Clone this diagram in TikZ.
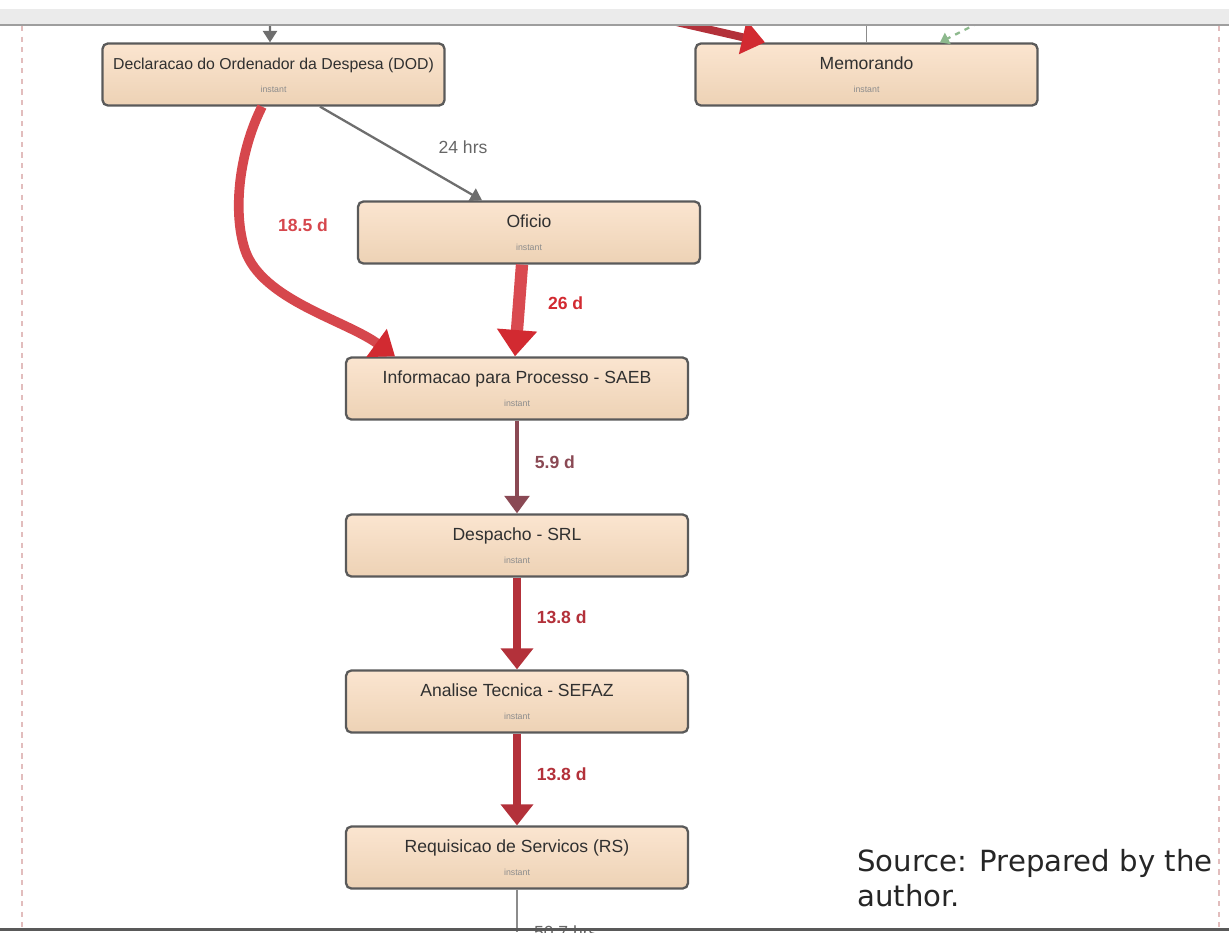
\documentclass[tikz,border=0pt]{standalone}
\usepackage{fontspec}
\setmainfont{Liberation Sans}
\newfontfamily\srcfont{DejaVu Sans}
\usetikzlibrary{arrows.meta,positioning}
\definecolor{boxtop}{HTML}{FBE5D0}
\definecolor{boxbot}{HTML}{EDD2B5}
\definecolor{boxline}{HTML}{5A5A5A}
\definecolor{titlegray}{HTML}{303030}
\definecolor{edgegray}{HTML}{6E6E6E}
\definecolor{lightred}{HTML}{D6474D}
\definecolor{brightred}{HTML}{D22A31}
\definecolor{darkred}{HTML}{B3313A}
\definecolor{maroon}{HTML}{8A4954}
\definecolor{dashgreen}{HTML}{8DB98D}
\definecolor{sidepink}{HTML}{E2BDBD}
\tikzset{
  % activity boxes: title on top, "instant" underneath
  procbox/.style={rectangle,rounded corners=3pt,draw=boxline,line width=1.3pt,
    top color=boxtop,bottom color=boxbot,minimum width=6.84cm,minimum height=1.24cm,
    text height=0.24cm,text depth=0.44cm,text=titlegray,font=\fontsize{10}{12}\selectfont,
    label={[instlabel]south:instant}},
  instlabel/.style={anchor=base,yshift=0.28cm,inner sep=0pt,text=black!45,
    font=\fontsize{5}{6}\selectfont},
  % connectors, thin to thick
  plainline/.style={draw=black!45,line width=1pt},
  flowgray/.style={draw=edgegray,line width=1.3pt,-{Triangle[width=8pt,length=6.5pt]}},
  flowgreen/.style={draw=dashgreen,dashed,line width=1.3pt,-{Triangle[width=7pt,length=5pt]}},
  flowmaroon/.style={draw=maroon,line width=2.3pt,-{Triangle[width=14pt,length=10pt]}},
  flowdark/.style={draw=darkred,line width=4.5pt,-{Triangle[width=18pt,length=12pt]}},
  flowred/.style={draw=lightred,line width=5.5pt,-{Triangle[width=19pt,length=13pt,color=brightred]}},
  flowbright/.style={draw=brightred!85!white,line width=7pt,-{Triangle[width=22pt,length=15pt,color=brightred]}},
  % duration labels
  durlabel/.style={font=\fontsize{10}{12}\selectfont\bfseries},
  hrslabel/.style={font=\fontsize{10}{12}\selectfont,text=black!60},
}
\begin{document}
\begin{tikzpicture}[x=0.02cm,y=-0.02cm]
  \useasboundingbox (0,0) rectangle (1229,932);
  \clip (0,0) rectangle (1229,932);
  % side guides of the lane
  \draw[sidepink,dashed,line width=1.2pt] (22,26) -- (22,928);
  \draw[sidepink,dashed,line width=1.2pt] (1219,26) -- (1219,928);

  % activities
  \node[procbox,font=\fontsize{9}{11}\selectfont] (dod) at (273.5,74.5) {Declaracao do Ordenador da Despesa (DOD)};
  \node[procbox] (memo) at (866.5,74.5) {Memorando};
  \node[procbox] (ofi) at (529,232.5) {Oficio};
  \node[procbox] (info) at (517,388.5) {Informacao para Processo - SAEB};
  \node[procbox] (desp) at (517,545.5) {Despacho - SRL};
  \node[procbox] (anal) at (517,701.5) {Analise Tecnica - SEFAZ};
  \node[procbox] (req) at (517,857.5) {Requisicao de Servicos (RS)};

  % edges coming in from above
  \coordinate (topa) at (270,24);
  \coordinate (topb) at (650,16);
  \coordinate (topc) at (866.5,24);
  \coordinate (topd) at (988,18);
  \draw[flowgray] (topa) -- ([xshift=-0.07cm]dod.north);
  \draw[flowred,draw=darkred,line width=4.5pt] (topb) -- ([xshift=-2.03cm]memo.north);
  \draw[plainline] (topc) -- (memo.north);
  \draw[flowgreen] (topd) -- ([xshift=1.47cm]memo.north);

  % main flow
  \draw[flowgray] ([xshift=0.93cm]dod.south) -- node[hrslabel,midway,xshift=1.24cm,yshift=0.12cm]{24 hrs} ([xshift=-0.94cm]ofi.north);
  \draw[flowred] ([xshift=-0.23cm]dod.south) .. controls (240,150) and (232,210) .. (245,250)
    node[durlabel,text=lightred,xshift=1.16cm,yshift=0.5cm]{18.5 d}
    .. controls (262,300) and (345,320) .. ([xshift=-2.44cm]info.north);
  \draw[flowbright] ([xshift=-0.14cm]ofi.south) -- node[durlabel,text=brightred,midway,right=0.35cm,yshift=0.14cm]{26 d} ([xshift=-0.04cm]info.north);
  \draw[flowmaroon] (info.south) -- node[durlabel,text=maroon,midway,right=0.2cm,yshift=0.1cm]{5.9 d} (desp.north);
  \draw[flowdark] (desp.south) -- node[durlabel,text=darkred,midway,right=0.2cm,yshift=0.12cm]{13.8 d} (anal.north);
  \draw[flowdark] (anal.south) -- node[durlabel,text=darkred,midway,right=0.2cm,yshift=0.1cm]{13.8 d} (req.north);
  \coordinate (bot) at (517,932);
  \draw[plainline,line width=1.3pt] (req.south) -- node[hrslabel,pos=0.68,anchor=north west,xshift=0.2cm]{50.7 hrs} (bot);

  % window frame
  \fill[black!8] (0,9) rectangle (1229,25);
  \draw[black!38,line width=1.2pt] (0,25) -- (1229,25);
  \draw[black!65,line width=2pt] (0,929.5) -- (1229,929.5);

  % source note
  \node[anchor=north west,inner sep=0pt,align=left,text=black!85,
    font=\srcfont\fontsize{16.6}{19.9}\selectfont] (src) at (857,849) {Source: Prepared by the\\author.};
\end{tikzpicture}
\end{document}
